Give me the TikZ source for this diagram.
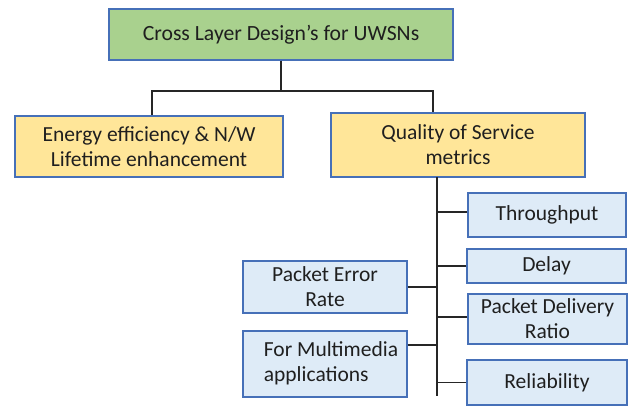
\documentclass[tikz,border=0pt]{standalone}
\usepackage{fontspec}
\setmainfont{Carlito}
\definecolor{boxline}{HTML}{4670B8}
\definecolor{greenfill}{HTML}{A9D18E}
\definecolor{goldfill}{HTML}{FFE699}
\definecolor{bluefill}{HTML}{DEEBF7}
\definecolor{linkline}{HTML}{262626}
\tikzset{
  box/.style={draw=boxline, line width=1.1pt, inner sep=0pt, align=center,
    font=\fontsize{21.5}{25}\selectfont, text=black!88},
  rootbox/.style={box, fill=greenfill, font=\fontsize{21.7}{25}\selectfont},
  levelbox/.style={box, fill=goldfill},
  metricbox/.style={box, fill=bluefill},
  link/.style={draw=linkline, line width=1.1pt}
}
\begin{document}
\begin{tikzpicture}[x=1pt, y=-1pt]
\useasboundingbox (0,0) rectangle (629,406);

% root
\node[rootbox, minimum width=344pt, minimum height=51pt] (root) at (281,34.5)
  {Cross Layer Design’s for UWSNs};

% second level
\node[levelbox, minimum width=268pt, minimum height=61pt] (energy) at (149,146.5)
  {Energy efficiency \& N/W\\Lifetime enhancement};
\node[levelbox, minimum width=254pt, minimum height=64pt] (qos) at (458,145)
  {Quality of Service\\metrics};

% QoS metrics, right column
\node[metricbox, minimum width=158pt, minimum height=44pt] (thr) at (547,215) {Throughput};
\node[metricbox, minimum width=159pt, minimum height=34pt] (delay) at (546.5,266) {Delay};
\node[metricbox, minimum width=159pt, minimum height=50pt] (pdr) at (547.5,319) {Packet Delivery\\Ratio};
\node[metricbox, minimum width=160pt, minimum height=45pt] (rel) at (547,382.5) {Reliability};

% QoS metrics, left column
\node[metricbox, minimum width=164pt, minimum height=52pt] (per) at (325,287) {Packet Error\\Rate};
\node[metricbox, minimum width=164pt, minimum height=66pt] (mm) at (325,364)
  {\hspace*{12pt}\begin{tabular}{@{}l@{}}For Multimedia\\applications\end{tabular}};

% tree links from the root
\coordinate (bar) at (281,91);
\draw[link] (root.south) -- (bar);
\draw[link] (bar) -| ([xshift=3pt]energy.north);
\draw[link] (bar) -| ([xshift=-25pt]qos.north);

% trunk under the QoS box
\coordinate (trunktop) at (437,177);
\coordinate (trunkend) at (437,396);
\draw[link] (trunktop) -- (trunkend);
\draw[link] ([yshift=3pt]thr.west) -- ([yshift=3pt]thr.west -| trunktop);
\draw[link] (delay.west) -- (delay.west -| trunktop);
\draw[link] ([yshift=2pt]pdr.west) -- ([yshift=2pt]pdr.west -| trunktop);
\draw[link] (rel.west) -- (rel.west -| trunktop);
\draw[link] (per.east) -- (per.east -| trunktop);
\draw[link] ([yshift=19pt]mm.east) -- ([yshift=19pt]mm.east -| trunktop);
\end{tikzpicture}
\end{document}
